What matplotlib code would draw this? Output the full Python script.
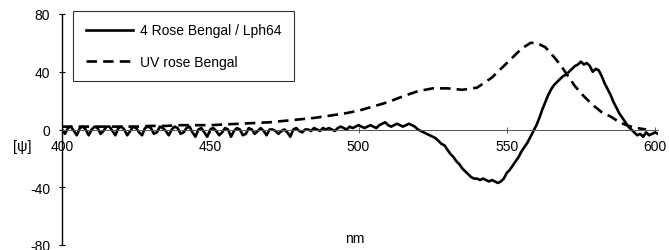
import numpy as np
import matplotlib
matplotlib.use('Agg')
import matplotlib.pyplot as plt

plt.rcParams['font.family'] = ['Liberation Sans', 'DejaVu Sans']

# CD-Spektrum, 1 nm Schritte (400..601 nm)
cd_start = 400
cd_values = [
    0, -3, 1, 2, -1, -4, 1, 2, 0, -4,
    0, 2, 1, -3, -1, 2, 2, -1, -4, 1,
    2, 0, -4, -1, 2, 1, -2, -4, 1, 2,
    1, -3, -2, 2, 1, -1, -4, 0, 2, 1,
    -3, -2, 1, 2, -2, -5, 0, 1, -2, -5,
    0, 1, -1, -4, -2, 1, 0, -5, -1, 1,
    0, -4, -3, 1, 0, -3, -1, 1, -1, -4,
    0, 0, -1, -3, -1, 0, -2, -5, 0, 1,
    -1, -2, 0, 0, -1, 1, 0, -1, 1, 0,
    1, 0, -1, 1, 2, 1, 0, 2, 1, 2,
    3, 2, 1, 2, 3, 2, 1, 3, 4, 5,
    3, 2, 3, 4, 3, 2, 3, 4, 3, 2,
    0, -1, -2, -3, -4, -5, -6, -8, -10, -11,
    -14, -17, -19, -22, -24, -27, -29, -31, -33, -34,
    -34, -35, -34, -35, -36, -35, -36, -37, -36, -34,
    -30, -28, -25, -22, -19, -15, -12, -9, -5, -1,
    3, 8, 14, 19, 24, 28, 31, 33, 35, 37,
    38, 40, 42, 44, 45, 47, 45, 46, 44, 40,
    42, 41, 37, 32, 28, 24, 19, 15, 11, 8,
    5, 2, 0, -2, -4, -3, -5, -2, -4, -3,
    -2, -3,
]
cd_nm = np.arange(cd_start, cd_start + len(cd_values))

# UV-Absorption (skaliert)
uv_nm = [400, 405, 410, 415, 420, 425, 430, 435, 440, 445, 450, 455, 460, 465,
         470, 475, 480, 485, 490, 495, 500, 505, 510, 515, 520, 525, 530, 535,
         540, 545, 550, 555, 558, 560, 563, 566, 568, 570, 573, 576, 579, 582,
         585, 588, 591, 594, 597]
uv_values = [2, 2, 2, 2, 2, 2, 2.5, 2.5, 3, 3, 3, 3.5, 4, 4.5,
             5, 6, 7, 8, 9.5, 11, 13, 16, 19, 23, 26.5, 28.5, 28.5, 27.5,
             29, 36, 46, 56, 60, 60, 57, 50, 45, 39, 30, 23, 17, 12,
             9, 5, 2.5, 1, 0]

x_ticks = [400, 450, 500, 550, 600]
y_ticks = [-80, -40, 0, 40, 80]
y_tick_labels = ['-80', '-40', '0', '40', '80']

W, H = 669, 251
fig = plt.figure(figsize=(W / 100, H / 100), dpi=100)
ax = fig.add_axes([62 / W, 1 - 246 / H, 596 / W, 231 / H])

ax.plot(cd_nm, cd_values, color='black', linewidth=1.9,
        label='4 Rose Bengal / Lph64')
ax.plot(uv_nm, uv_values, color='black', linewidth=1.9,
        dashes=(4.0, 2.3), label='UV rose Bengal')

ax.set_xlim(400, 601)
ax.set_ylim(-80, 80)

ax.spines['top'].set_visible(False)
ax.spines['right'].set_visible(False)
ax.spines['bottom'].set_position(('data', 0))
ax.spines['bottom'].set_color('#555555')
ax.spines['bottom'].set_linewidth(0.7)
ax.spines['left'].set_linewidth(1.0)

ax.set_xticks(x_ticks)
ax.set_yticks(y_ticks)
ax.set_yticklabels(y_tick_labels)
ax.tick_params(axis='x', direction='inout', length=5, width=0.7,
               pad=4.5, labelsize=10, color='#555555')
ax.tick_params(axis='y', direction='inout', length=5, width=0.8,
               pad=6, labelsize=10)

fig.text(22 / W, 1 - 147 / H, '[\u03c8]', fontsize=10.5,
         ha='center', va='center')
fig.text(355 / W, 1 - 239 / H, 'nm', fontsize=10,
         ha='center', va='center')

leg = ax.legend(loc='upper left', bbox_to_anchor=(73 / W, 1 - 12 / H),
                bbox_transform=fig.transFigure, borderaxespad=0,
                fontsize=10, frameon=True, fancybox=False,
                handlelength=3.4, handletextpad=0.55, labelspacing=1.25,
                borderpad=0.9)
leg.get_frame().set_edgecolor('black')
leg.get_frame().set_linewidth(0.8)

fig.savefig('out.png', dpi=100)
